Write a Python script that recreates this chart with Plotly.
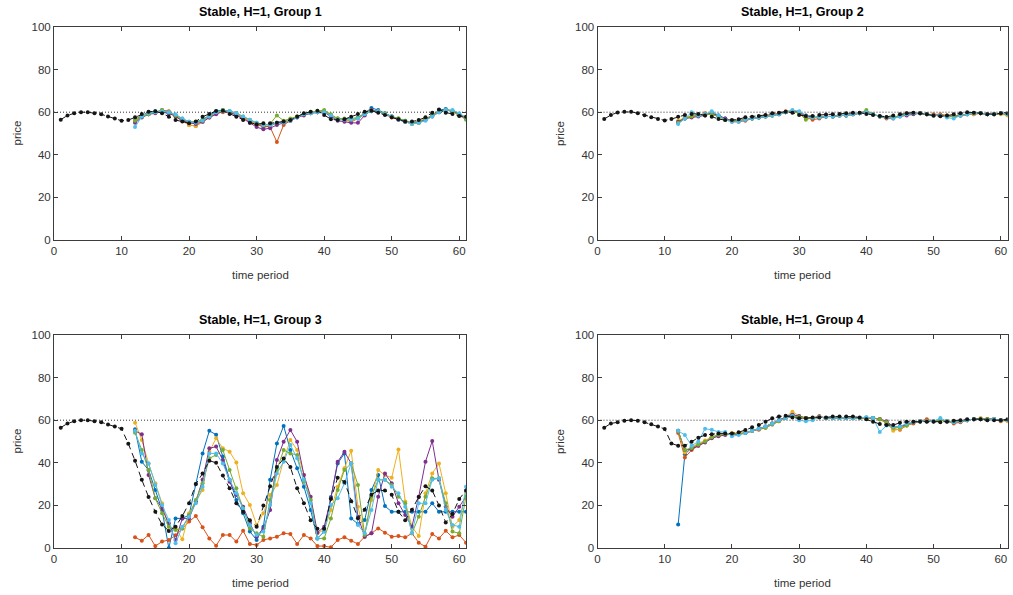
import plotly.graph_objects as go

# ---------------- data ----------------
T_ALL = list(range(1, 62))      # time periods of the dashed black series
T_GRP = list(range(12, 62))     # time periods of the six coloured series
REF_PRICE = 60
X_TICKS = [0, 10, 20, 30, 40, 50, 60]
Y_TICKS = [0, 20, 40, 60, 80, 100]
TITLES = ["Stable, H=1, Group 1", "Stable, H=1, Group 2",
          "Stable, H=1, Group 3", "Stable, H=1, Group 4"]

# Group 1
G1_black = [56.5,58.5,59.5,60,60,59.5,59,58,57,56,
            56.3,57.6,59.2,60.2,60.4,59.5,57.9,56.3,55.6,54.8,
            55.6,57.9,59.2,60.6,60.7,59.2,57.9,56.3,55.1,54.3,
            54.8,54.8,55.1,55.6,56.3,57.9,59.5,60.2,60.7,58.7,
            56.7,56.3,56.7,57.9,59.2,60.2,60.7,59.8,58.7,57.6,
            56.7,55.6,55.6,56.3,57.6,59.8,61.3,59.8,59.2,58.2,
            57.9]
G1_blue = [56.5,58.5,60,60.5,60,59.5,58.5,56.5,55.5,55,56.5,58.5,60.5,61,60.5,59.5,57.5,56,54.5,53,53.5,55,55.5,56.5,58,59,60,60,60,58.5,57,56.5,56,57.5,59.5,62,61,59.5,58,57,56,55,55,56.5,58.5,61,61.5,60.5,59,57.5]
G1_orange = [55.5,58,59,60,61,60.5,58,56,54,53.5,55.5,57.5,59.5,60,60,59,57.5,55.5,54,53.5,53,46,54,56,58,59,59.5,60,60.5,58.5,56.5,56.5,55.5,57,59,60.5,60.5,59,57.5,56.5,55.5,54.5,55,56.5,58.5,60,61,60.5,58.5,57]
G1_yellow = [56,58.5,59.5,60,60.5,60,58.5,56,54,53.5,55.5,58,59.5,60.5,60,59,57.5,56,54.5,54,54,55,55.5,56.5,58,59,59.5,60,60.5,58.5,57,56.5,56,57,59,61,60.5,59,58,57,55.5,54.5,55,56.5,58.5,60.5,61,60.5,59,57.5]
G1_purple = [55,57.5,59,59.5,60.5,59.5,58,56,55,54.5,55.5,57.5,59,60.5,60,58.5,57,55,53,52,52.5,54,55,56,57.5,58.5,59.5,60,60,58,56,55.5,55,55,58.5,61,60.5,59,58,56.5,55.5,55,55.5,56.5,58,60,61,60.5,59,57]
G1_green = [56,58,59,60,61,60,58.5,57,55.5,55.5,56.5,58,60,61,60.5,59.5,58,56.5,55,54,54.5,58.5,56,57,58,59,60,60.5,61,59,57,57,57,57.5,59.5,60.5,60.5,59.5,58,57,56,55,55.5,57,58.5,60.5,61,60.5,58.5,56.5]
G1_lblue = [53,58,59.5,60,60.5,60,59,57,55.5,55,56,58,60,60.5,60.5,59.5,58,56.5,55,54,54,55,55,56,57.5,59,59.5,60,60,58.5,56.5,56.5,56.5,57,59,60.5,60.5,59,58,56.5,55.5,54.5,55,56,58,60,61,61,59.5,57.5]

# Group 2
G2_black = [56.8,58.7,59.9,60.2,60.2,59.5,58.6,57.6,56.8,56.1,
            56.8,57.9,58.7,59.2,59.2,58.5,57.9,56.8,56.3,56.3,
            56.7,57.6,57.9,58.2,58.7,59.5,59.8,60.2,59.8,58.7,
            58.2,58.2,58.7,58.9,59,59.2,59.5,59.8,59.8,59.2,
            58.7,58.2,57.8,58.4,59,59.5,59.8,59.5,59,58.4,
            58.1,58.4,59,59.5,60,59.8,59.5,59,59,59.5,
            59.5]
G2_blue = [55,57,58,58.5,59,59.5,58.5,57,56,56,56.5,57,57.5,58,58.5,59,60,60.5,60,58,57.5,57.5,58,58,58.5,58.5,59,59.5,60,59,58,57.5,57.5,58.5,59,59.5,59.5,59,58.5,58.5,58,58,58.5,59,59.5,59.5,59,59,59.5,59]
G2_orange = [55.5,57.5,58,58.5,59.5,59,58,56.5,55.5,55.5,56,57,57.5,58.5,59,59.5,60.5,60.5,59.5,57.5,56.5,57,58,58,58.5,58.5,59,59.5,60,59,58,57,57,58.5,59.5,59.5,59.5,59,59,59,58.5,58,58.5,59,59,59.5,59,59,59.5,59]
G2_yellow = [56,57.5,58,58.5,59,59,58,56.5,56,56,56.5,57,57.5,58,58.5,59,60,60.5,60,58.5,57.5,58,58,58,58.5,58.5,59,59.5,60,59,58,57.5,57.5,58.5,59,59.5,59.5,59,58.5,58.5,58.5,58,58.5,59,59,59.5,59,59,59,58.5]
G2_purple = [55.5,57,57.5,58,58.5,59.5,58.5,57,56,56,56.5,57,57.5,58,58.5,59,60,60.5,60,58.5,57.5,57.5,58,58,58.5,58.5,59,59.5,60,59,58,57.5,57.5,58,58.5,59,59.5,59,58.5,58.5,58,58,58.5,59,59.5,59.5,59,59,59.5,59]
G2_green = [55,57,58,58.5,59,59,58,56.5,56,56,56.5,57,57.5,58,58.5,59,60,60.5,59.5,56.5,57.5,58,58,58,58.5,58.5,59,59.5,61,59,58,57.5,57.5,58.5,59,59.5,59.5,59,58.5,58.5,58,58,58.5,59,59.5,59.5,59,59,59.5,59]
G2_lblue = [54.5,57,60,58.5,59,60.5,58.5,56.5,55.5,55.5,56.5,57,57.5,58,58.5,59,60,61,60.5,58.5,57.5,57.5,58,58,58.5,58.5,59,59.5,60,59,58,57.5,57,58,59,59.5,59.5,59,58.5,58.5,57.5,57,58.5,59,59.5,59.5,59,59,59.5,59]

# Group 3
G3_black = [56.5,58.5,59.5,60,60,59.5,59,58,57,56,
            49,41,32,24,17,11,8,10,15,21,
            30,35,41,40,34,28,21,17,13,10,
            20,29,38,42,38,28,21,13,9,9,
            23,33,31,22,14,18,25,27,27,25,
            17,13,18,24,29,27,20,12,16,23,
            27]
G3_blue = [55.7,40.5,36.6,27.2,17.8,0,13.9,13.9,15.5,30,44.4,55,53.2,42.9,32,22.5,16.3,7.7,3.8,10,32,49.1,57.3,46,37.4,28.8,17.8,4.5,7.7,24,39.7,44.4,13.9,11.3,13.1,27.2,34.3,19.7,17,17,17,17,17,17,21,17,17,17,17,17]
G3_orange = [5,3.4,6.1,0.9,3,3.8,6,9.2,12.4,15,9.7,4.5,1.1,6.1,6.1,3,8.1,1.9,1.4,3.8,4.5,5.3,6.9,6.6,1.9,6.1,4.5,0.9,0.9,0.3,3.8,5,3.4,1.9,5.3,6.9,9.2,7.2,5.3,5.6,5,6.9,2.5,0.6,6.6,4.5,8.1,5,6.1,2.5]
G3_yellow = [58.8,50.7,39.7,30.4,21,10,9.2,4.1,16.3,21.8,27.2,45.2,51.5,46.8,45.2,40.1,25.7,20.2,10.8,16.3,24.9,29.6,41.3,50.7,46,34.3,22.5,6.9,8.5,17.8,28.8,37.4,45.7,19.4,6.1,22.5,36.6,34.3,33,46.3,21.8,10,5.6,25.7,35,39.7,25.7,10,13.1,26.4]
G3_purple = [55,53.4,34.3,23.3,18.6,11.6,3.8,13.9,13.9,21.8,32,46.8,47.6,41.3,31.1,24.9,19.4,11.6,5.3,9.2,17.8,41.3,49.9,55.4,49.9,34.3,24.1,7.2,10,23.3,40.5,45.2,39.7,14.7,5.3,6.9,24.1,35,30.4,21,15.5,10,24.1,40.5,50.2,32,19.4,14.7,19.4,24.1]
G3_green = [54.1,46,36.6,23.3,16.3,10,8.5,9.2,15.5,22.5,30.4,42.1,43.7,46,36.6,28,18.6,9.2,6.9,5.3,22.5,36.6,46,44.4,43.7,31.1,22.5,4.5,4.5,13.9,27.2,36.6,39.7,29.6,6.1,24.1,32,32,29.6,24.1,21,6.9,14.7,24.1,32.7,32.7,21,7.7,6.9,24.1]
G3_lblue = [55,44.4,39.7,29.6,20.2,13.1,2.2,10,14.7,21,28.8,44.4,44.4,39.7,32,25.7,18.6,10.8,6.1,7.7,20.2,35,40.5,48.4,42.1,32,21,4.5,7.7,20.2,23.3,30.4,39.7,10.8,6.9,17.8,32,32,28.8,25.7,19.4,6.9,21,21,32,32.7,17.8,10.8,10,28.8]

# Group 4
G4_black = [56.5,58.5,59,59.8,60,59.8,59,58.1,57,55.9,
            49.1,48,48,49.9,51.8,53,53.4,53.8,53.8,53.8,
            54.3,55.4,56.7,57.7,59.3,60.9,61.7,62.1,61.3,60.9,
            60.9,61.3,61.3,61.3,61.7,61.7,61.7,61.7,61.3,60.4,
            59.3,58.2,57.7,57.7,58.8,59.3,59.3,59.3,59.3,59.3,
            59,59.3,59.8,60,60.5,60.5,60.5,60,60,60,
            60.5]
G4_blue = [11,44,47,48.5,50,52,53,53.5,53.5,53.5,54,55,56,57,58.5,60,61.5,63,61,61,61,61.5,61,61,61,61,61,61,61,61,60.5,59,57,57,58,59,59.5,59.5,59.5,60,59.5,59,59.5,60,60.5,60.5,60.5,60.5,60,60]
G4_orange = [54,42.5,46,48,50,52,53,53.5,53.5,53.5,54,55,55.5,56.5,58,59.5,61,62,61,61,61,62,61,61,61,61,61,61,61,61,60.5,58.5,56,55.5,57.5,58.5,59.5,60.5,59.5,60,59.5,58.5,59,60,60.5,60.5,60.5,60.5,59.5,60]
G4_yellow = [55,45,47.5,49,50.5,52,53,53.5,54,54,54.5,55,56,57,58.5,60,61.5,64,62,61,61,61.5,61,61,61,61,61,61,61,61,60.5,59,55,56,57.5,59,59.5,59.5,59.5,60,59.5,59.5,59.5,60,60.5,61,60.5,60.5,60,59.5]
G4_purple = [55,46,46.5,48,49.5,51.5,52.5,53,53.5,53.5,54,55,56,57,58.5,60,61.5,62.5,62,61,61,61.5,61,61,61,61,61,61,61,61,60.5,59.5,57,57,58,59,59.5,59.5,59.5,60,59.5,59,59.5,60,60.5,60.5,60.5,60.5,60,60]
G4_green = [55,46,47,48.5,50,52,53,53.5,53.5,53.5,54,55,56,56.5,58,59.5,61,62,61.5,61,61,61.5,61,61,61,61,61,61,61,61,60.5,59,56.5,56.5,57.5,59,59.5,59.5,59.5,60,59.5,59,59.5,60,60.5,60.5,60.5,60.5,60,60]
G4_lblue = [55,53,48,50,56,55.5,54.5,54.5,52.5,53,54,55,56,57,58.5,60,61,62,60,59.5,60,61.5,61,61,61,61,61,61,61.5,61,54.5,57.5,57,57,58.5,59,59.5,59.5,59.5,61,59.5,59,59.5,60,60.5,60.5,60,60.5,60,60]

GROUPS = [
    (G1_black, [G1_blue, G1_orange, G1_yellow, G1_purple, G1_green, G1_lblue]),
    (G2_black, [G2_blue, G2_orange, G2_yellow, G2_purple, G2_green, G2_lblue]),
    (G3_black, [G3_blue, G3_orange, G3_yellow, G3_purple, G3_green, G3_lblue]),
    (G4_black, [G4_blue, G4_orange, G4_yellow, G4_purple, G4_green, G4_lblue]),
]

# ---------------- style ----------------
COLORS = ['#0072BD', '#D95319', '#EDB120', '#7E2F8E', '#77AC30', '#4DBEEE']
W, H = 1013, 595
XDOM = [(54 / W, 466 / W), (597.5 / W, 1007.5 / W)]
YDOM = [(1 - 240 / H, 1 - 27 / H), (1 - 548 / H, 1 - 335 / H)]
AXC = '#3c3c3c'
TXT = '#333333'
FONT = 'Liberation Sans, Arial, sans-serif'

fig = go.Figure()
layout = dict(
    width=W, height=H,
    margin=dict(l=0, r=0, t=0, b=0, pad=0, autoexpand=False),
    paper_bgcolor='white', plot_bgcolor='white',
    showlegend=False,
    font=dict(family=FONT, size=11, color=TXT),
)
annotations = []
shapes = []

for i, (black, series) in enumerate(GROUPS):
    k = i + 1
    r, c = divmod(i, 2)
    xn = 'x' if k == 1 else f'x{k}'
    yn = 'y' if k == 1 else f'y{k}'
    for col, vals in zip(COLORS, series):
        fig.add_trace(go.Scatter(
            x=T_GRP, y=vals, xaxis=xn, yaxis=yn, mode='lines+markers',
            line=dict(color=col, width=1),
            marker=dict(color=col, size=4),
            hoverinfo='x+y'))
    fig.add_trace(go.Scatter(
        x=T_ALL, y=black, xaxis=xn, yaxis=yn, mode='lines+markers',
        line=dict(color='#151515', width=1, dash='6px,4px'),
        marker=dict(color='#151515', size=4),
        hoverinfo='x+y'))

    axkey = 'xaxis' if k == 1 else f'xaxis{k}'
    aykey = 'yaxis' if k == 1 else f'yaxis{k}'
    common = dict(showline=True, linecolor=AXC, linewidth=1, mirror='allticks',
                  ticks='inside', ticklen=4, tickcolor=AXC, tickwidth=1,
                  showgrid=False, zeroline=False, automargin=False,
                  tickfont=dict(family=FONT, size=11.5, color=TXT))
    layout[axkey] = dict(common, domain=list(XDOM[c]), anchor=yn, range=[0, 61],
                         tickvals=X_TICKS)
    layout[aykey] = dict(common, domain=list(YDOM[r]), anchor=xn, range=[0, 100],
                         tickvals=Y_TICKS)

    xd, yd = XDOM[c], YDOM[r]
    xc = (xd[0] + xd[1]) / 2
    # subplot title
    annotations.append(dict(text=f'<b>{TITLES[i]}</b>', x=xc, y=yd[1] + 15 / H,
                            xref='paper', yref='paper', showarrow=False,
                            xanchor='center', yanchor='middle',
                            font=dict(family=FONT, size=12.5, color='#000000')))
    # x axis label
    annotations.append(dict(text='time period', x=xc, y=yd[0] - 35 / H,
                            xref='paper', yref='paper', showarrow=False,
                            xanchor='center', yanchor='middle',
                            font=dict(family=FONT, size=11.5, color=TXT)))
    # y axis label
    annotations.append(dict(text='price', x=xd[0] - 38 / W, y=(yd[0] + yd[1]) / 2,
                            xref='paper', yref='paper', showarrow=False, textangle=-90,
                            xanchor='center', yanchor='middle',
                            font=dict(family=FONT, size=11.5, color=TXT)))
    # dotted reference price line
    shapes.append(dict(type='line', xref=f'{xn} domain', yref=yn, x0=0, x1=1,
                       y0=REF_PRICE, y1=REF_PRICE, layer='below',
                       line=dict(color='#333333', width=1, dash='1px,2px')))

layout['annotations'] = annotations
layout['shapes'] = shapes
fig.update_layout(**layout)
fig.write_html('out.html')
